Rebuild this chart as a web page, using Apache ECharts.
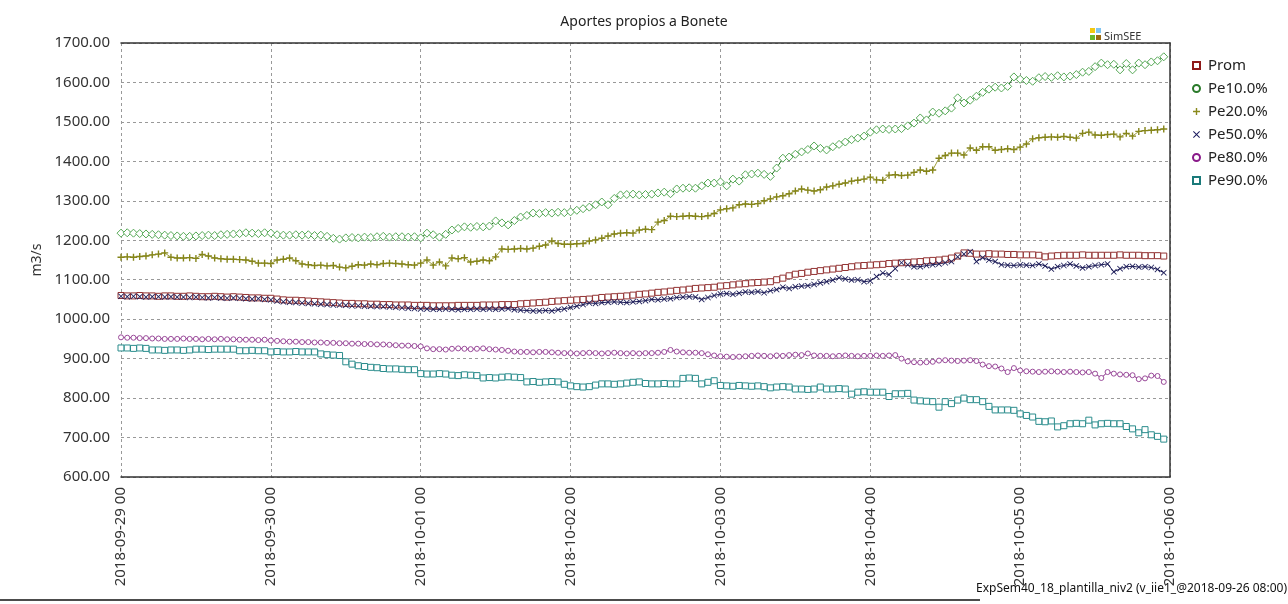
<!DOCTYPE html>
<html>
<head>
<meta charset="utf-8">
<script src="https://cdn.jsdelivr.net/npm/echarts@6/dist/echarts.min.js"></script>
<style>
html,body{margin:0;padding:0;background:#fff;}
#chart{width:1288px;height:604px;}
</style>
</head>
<body>
<div id="chart"></div>
<script>
const xTickLabels = ['2018-09-29 00','2018-09-30 00','2018-10-01 00','2018-10-02 00','2018-10-03 00','2018-10-04 00','2018-10-05 00','2018-10-06 00'];
const yTicks = [600,700,800,900,1000,1100,1200,1300,1400,1500,1600,1700];
const seriesNames = ['Prom','Pe10.0%','Pe20.0%','Pe50.0%','Pe80.0%','Pe90.0%'];

const prom = [
1060,1059,1059,1060,1059,1059,1058,1059,1059,1058,1058,1059,1058,1057,1057,1058,1057,1056,1057,1056,1055,1054,1054,1053,
1053,1051,1049,1048,1048,1047,1046,1045,1044,1043,1042,1041,1040,1040,1039,1039,1038,1038,1037,1037,1036,1036,1036,1035,
1035,1035,1034,1034,1034,1034,1035,1035,1035,1035,1036,1036,1036,1037,1037,1037,1039,1040,1041,1042,1043,1045,1046,1047,
1048,1049,1050,1051,1053,1055,1056,1057,1058,1059,1061,1063,1064,1066,1068,1069,1071,1073,1074,1076,1078,1079,1080,1081,
1084,1085,1087,1089,1090,1092,1093,1094,1095,1100,1104,1110,1114,1116,1119,1121,1123,1125,1127,1129,1131,1133,1135,1136,
1137,1138,1139,1141,1142,1143,1144,1145,1146,1148,1149,1150,1152,1155,1160,1168,1167,1165,1165,1166,1165,1165,1164,1164,
1163,1163,1163,1162,1158,1160,1161,1162,1162,1162,1163,1162,1162,1162,1162,1162,1163,1162,1162,1162,1161,1161,1161,1160];

const pe10 = [
1218,1219,1218,1217,1216,1215,1214,1213,1212,1211,1210,1210,1211,1212,1213,1212,1214,1215,1216,1217,1219,1218,1217,1219,
1218,1214,1213,1213,1214,1213,1214,1212,1213,1210,1205,1203,1206,1207,1206,1208,1207,1209,1210,1208,1209,1209,1208,1209,
1206,1218,1214,1208,1215,1226,1230,1234,1233,1235,1234,1236,1249,1244,1239,1250,1259,1263,1269,1268,1270,1269,1271,1270,
1272,1276,1280,1284,1290,1297,1290,1306,1315,1316,1317,1315,1316,1317,1320,1322,1318,1330,1332,1333,1332,1338,1345,1345,
1348,1338,1355,1350,1366,1368,1370,1367,1362,1383,1408,1411,1418,1424,1430,1439,1433,1429,1437,1443,1449,1455,1459,1464,
1474,1480,1482,1481,1482,1483,1490,1497,1510,1505,1525,1522,1528,1535,1561,1548,1555,1565,1575,1583,1588,1586,1590,1614,
1608,1605,1603,1612,1615,1613,1617,1614,1616,1620,1626,1628,1640,1649,1645,1646,1632,1648,1632,1649,1645,1652,1655,1665];

const pe20 = [
1157,1158,1157,1159,1160,1163,1165,1168,1157,1155,1155,1156,1154,1164,1160,1155,1153,1152,1152,1151,1150,1147,1142,1142,
1141,1150,1152,1155,1148,1140,1138,1136,1137,1135,1136,1132,1130,1134,1138,1137,1140,1138,1141,1142,1141,1140,1138,1137,
1142,1150,1137,1145,1135,1155,1153,1156,1145,1147,1150,1148,1158,1178,1177,1178,1179,1178,1180,1185,1188,1198,1192,1190,
1190,1191,1192,1198,1201,1205,1211,1216,1218,1219,1218,1226,1228,1227,1246,1250,1261,1260,1261,1262,1261,1260,1262,1268,
1277,1280,1282,1290,1292,1291,1293,1300,1305,1310,1313,1318,1325,1330,1327,1325,1328,1335,1338,1342,1345,1350,1352,1355,
1360,1353,1352,1365,1366,1364,1365,1372,1378,1375,1378,1408,1415,1421,1421,1416,1434,1428,1437,1437,1428,1430,1432,1430,
1436,1444,1457,1460,1461,1462,1461,1463,1461,1459,1471,1474,1467,1466,1468,1469,1462,1471,1464,1476,1478,1479,1480,1482];

const pe50 = [
1058,1057,1058,1057,1056,1057,1057,1056,1057,1056,1056,1055,1056,1055,1054,1055,1054,1053,1054,1053,1052,1051,1052,1050,
1049,1046,1044,1043,1042,1041,1040,1039,1038,1037,1036,1036,1035,1034,1034,1033,1033,1032,1032,1031,1030,1029,1028,1027,
1026,1026,1025,1025,1026,1025,1024,1025,1025,1026,1025,1026,1025,1026,1027,1024,1023,1022,1021,1021,1022,1021,1024,1026,
1030,1033,1037,1041,1040,1042,1043,1044,1043,1042,1044,1045,1047,1050,1049,1051,1052,1055,1056,1057,1056,1050,1055,1060,
1064,1065,1063,1066,1069,1068,1070,1067,1072,1075,1081,1078,1082,1084,1085,1088,1092,1095,1099,1105,1102,1099,1100,1095,
1097,1108,1117,1113,1128,1143,1138,1133,1133,1136,1138,1140,1143,1146,1158,1165,1171,1146,1156,1150,1146,1138,1137,1136,
1138,1137,1136,1140,1135,1127,1133,1136,1140,1135,1130,1133,1136,1138,1140,1120,1128,1133,1134,1132,1133,1131,1126,1118];

const pe80 = [
954,953,953,952,952,951,951,950,950,950,951,950,950,949,950,949,950,949,949,948,948,948,947,948,
946,945,944,943,943,942,942,941,941,940,940,939,939,938,938,937,937,936,936,935,934,933,933,932,
931,926,924,924,923,925,926,925,924,925,926,924,923,922,920,918,917,917,916,917,917,916,915,914,
914,913,914,915,914,913,914,915,914,913,914,913,914,914,915,917,922,918,916,915,915,914,911,908,
906,905,904,905,906,907,908,907,906,908,907,909,910,909,913,908,907,907,906,907,908,907,906,907,
907,908,907,908,909,900,893,891,890,891,892,895,896,895,894,895,896,894,885,881,880,875,866,876,
870,868,867,866,867,868,867,866,867,866,865,866,862,851,866,862,860,859,858,848,850,857,856,841];

const pe90 = [
927,927,926,927,926,922,922,921,922,922,921,922,924,924,923,924,924,924,924,920,920,921,920,920,
917,918,917,917,918,917,917,917,912,910,909,908,892,886,882,880,878,877,875,874,874,873,872,872,
862,861,861,862,861,858,857,859,858,857,851,852,851,853,854,853,852,841,842,840,841,842,841,835,
831,829,828,829,833,836,836,835,836,838,840,841,837,836,836,837,836,836,850,851,850,836,840,844,
832,831,830,832,831,830,831,829,826,828,829,828,823,823,822,823,828,823,823,824,823,810,815,816,
815,815,815,804,811,811,812,795,793,792,791,777,791,786,795,800,796,796,791,779,770,770,770,769,
760,756,752,741,740,742,727,730,735,736,735,744,732,735,736,735,735,728,722,712,720,707,703,696];

const PLUS = 'path://M4,0H6V10H4ZM0,4H10V6H0Z';
const CROSS = 'path://M1,0L5,4L9,0L10,1L6,5L10,9L9,10L5,6L1,10L0,9L4,5L0,1Z';

function pts(arr){ return arr.map((v,i)=>[i,v]); }

const styles = [
  {line:'#6e1010', mark:'#933333', fill:'#fff', symbol:'rect', size:6},
  {line:'#1a6e1a', mark:'#55a855', fill:'#fff', symbol:'diamond', size:[8,8]},
  {line:'#a0a040', mark:'#85851a', fill:'#85851a', symbol:PLUS, size:7},
  {line:'#1c1c58', mark:'#1c1c58', fill:'#1c1c58', symbol:CROSS, size:6},
  {line:'#802080', mark:'#9a4a9a', fill:'#fff', symbol:'circle', size:5},
  {line:'#157575', mark:'#2a8c8c', fill:'#fff', symbol:'rect', size:6}
];
const dataSets = [prom, pe10, pe20, pe50, pe80, pe90];

const series = dataSets.map((arr, k) => {
  const s = styles[k];
  const hollow = s.fill === '#fff';
  return {
    name: seriesNames[k],
    type: 'line',
    data: pts(arr),
    symbol: s.symbol,
    symbolSize: s.size,
    showAllSymbol: true,
    lineStyle: {color: s.line, width: 1},
    itemStyle: hollow ? {color: s.fill, borderColor: s.mark, borderWidth: 1} : {color: s.fill, borderWidth: 0},
    emphasis: {disabled: true},
    animation: false
  };
});

const legendIcons = [
  {icon:'rect', style:{color:'#fff', borderColor:'#8e1a1a', borderWidth:2}},
  {icon:'circle', style:{color:'#fff', borderColor:'#2a7a2a', borderWidth:2}},
  {icon:PLUS, style:{color:'#8a8a1c', borderWidth:0}},
  {icon:CROSS, style:{color:'#1a1a5e', borderWidth:0}},
  {icon:'circle', style:{color:'#fff', borderColor:'#8a1a8a', borderWidth:2}},
  {icon:'rect', style:{color:'#fff', borderColor:'#1a7a7a', borderWidth:2}}
];

const chart = echarts.init(document.getElementById('chart'), null, {renderer:'canvas'});
const FONT = 'Noto Sans';
chart.setOption({
  animation: false,
  backgroundColor: '#fff',
  title: {
    text: 'Aportes propios a Bonete',
    left: 'center', top: 10,
    textStyle: {fontFamily: FONT, fontSize: 14, fontWeight: 'normal', color: '#222'}
  },
  legend: {
    orient: 'vertical', left: 1187, top: 52,
    itemWidth: 7, itemHeight: 7, itemGap: 6,
    selectedMode: false,
    textStyle: {fontFamily: FONT, fontSize: 15, color: '#222', lineHeight: 17, padding:[0,0,0,3]},
    data: seriesNames.map((n,k)=>({name:n, icon: legendIcons[k].icon, itemStyle: legendIcons[k].style}))
  },
  grid: {left: 121, right: 118, top: 43, bottom: 127, containLabel: false},
  xAxis: [{
    type: 'value', min: 0, max: 168, interval: 24,
    axisLine: {show: true, lineStyle: {color: '#333', width: 1.5}},
    axisTick: {show: false},
    axisLabel: {rotate: 90, margin: 10, fontFamily: FONT, fontSize: 15, color: '#333',
      formatter: v => xTickLabels[Math.round(v/24)] || ''},
    splitLine: {show: true, lineStyle: {color: '#999', type: [3,3], width: 1}}
  },{
    type: 'value', position: 'top', min: 0, max: 168, interval: 24,
    axisLine: {show: true, onZero:false, lineStyle: {color: '#333', width: 1.5}},
    axisTick: {show: false}, axisLabel: {show: false}, splitLine: {show: false}
  }],
  yAxis: [{
    type: 'value', min: yTicks[0], max: yTicks[yTicks.length-1], interval: 100,
    name: 'm3/s', nameLocation: 'middle', nameGap: 74, nameRotate: 90,
    nameTextStyle: {fontFamily: FONT, fontSize: 14, color: '#333'},
    axisLine: {show: false},
    axisTick: {show: false},
    axisLabel: {margin: 11, fontFamily: FONT, fontSize: 15, color: '#333', formatter: v => v.toFixed(2)},
    splitLine: {show: true, lineStyle: {color: '#999', type: [3,3], width: 1}}
  },{
    type: 'value', position: 'right', min: yTicks[0], max: yTicks[yTicks.length-1], interval: 100,
    axisLine: {show: true, onZero:false, lineStyle: {color: '#333', width: 1.5}},
    axisTick: {show: false}, axisLabel: {show: false}, splitLine: {show: false}
  }],
  graphic: [
    {type:'rect', shape:{x:1090, y:28, width:5, height:5}, style:{fill:'#f2c811'}},
    {type:'rect', shape:{x:1096, y:28, width:5, height:5}, style:{fill:'#7fc4f0'}},
    {type:'rect', shape:{x:1090, y:35, width:5, height:5}, style:{fill:'#6bb82a'}},
    {type:'rect', shape:{x:1096, y:35, width:5, height:5}, style:{fill:'#9a6a10'}},
    {type:'text', left:1104, top:31, style:{text:'SimSEE', font:'11px "Noto Sans"', fill:'#333'}},
    {type:'text', right:1, top:583, style:{text:'ExpSem40_18_plantilla_niv2 (v_iie1_@2018-09-26 08:00)', font:'12px "Liberation Sans Narrow", "Noto Sans"', fill:'#111'}},
    {type:'line', shape:{x1:0, y1:600, x2:980, y2:600}, style:{stroke:'#111', lineWidth:1.5}}
  ],
  series: series
});
</script>
</body>
</html>
